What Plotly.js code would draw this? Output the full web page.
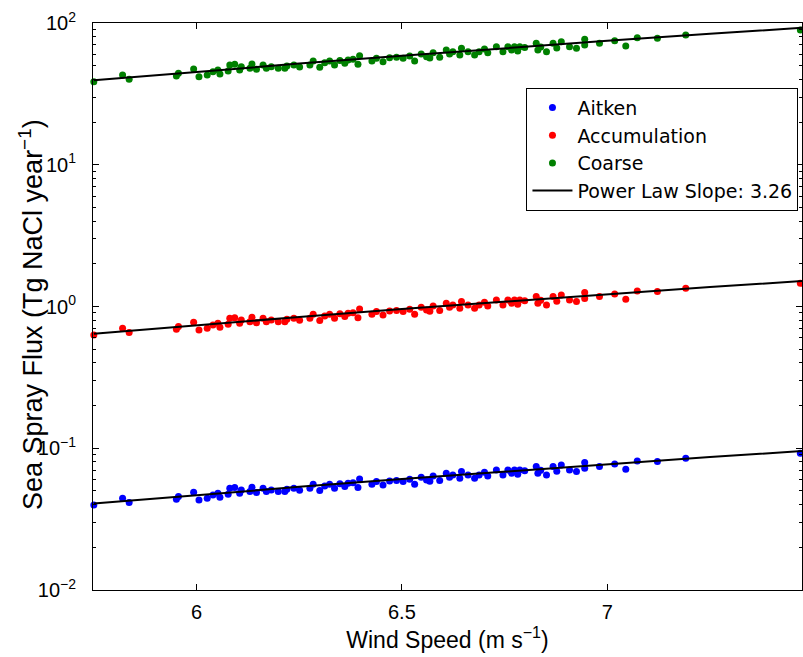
<!DOCTYPE html>
<html>
<head>
<meta charset="utf-8">
<script src="https://cdn.plot.ly/plotly-3.0.1.min.js"></script>
<style>html,body{margin:0;padding:0;background:#fff;}</style>
</head>
<body>
<div id="chart" style="width:803px;height:657px;"></div>
<script>
// Wind speed (m s^-1), shared by the three modes
const windSpeed = [5.750,5.820,5.836,5.951,5.956,5.993,6.006,6.026,6.040,6.057,6.077,6.081,6.093,6.109,6.130,6.146,6.162,6.170,6.182,6.199,6.215,6.237,6.276,6.284,6.300,6.312,6.324,6.336,6.361,6.369,6.381,6.393,6.397,6.438,6.454,6.470,6.487,6.503,6.531,6.547,6.560,6.576,6.592,6.608,6.624,6.641,6.645,6.661,6.677,6.688,6.709,6.730,6.746,6.758,6.774,6.787,6.827,6.831,6.852,6.868,6.888,6.908,6.925,6.945,6.945,6.981,7.018,7.045,7.073,7.122,7.191,7.470,6.105,6.220,6.251,6.349,6.427,6.519,6.568,6.616,6.701,6.767,6.799,6.838,6.877,6.782,6.052,6.135];

const aitken = [0.0398,0.0444,0.0414,0.0437,0.0457,0.0490,0.0432,0.0444,0.0468,0.0451,0.0474,0.0522,0.0528,0.0508,0.0495,0.0487,0.0522,0.0495,0.0508,0.0495,0.0495,0.0522,0.0522,0.0557,0.0503,0.0542,0.0557,0.0522,0.0537,0.0566,0.0572,0.0528,0.0607,0.0583,0.0551,0.0588,0.0592,0.0583,0.0557,0.0624,0.0597,0.0637,0.0592,0.0666,0.0648,0.0615,0.0685,0.0648,0.0615,0.0648,0.0637,0.0703,0.0648,0.0703,0.0703,0.0703,0.0743,0.0666,0.0648,0.0743,0.0762,0.0703,0.0685,0.0792,0.0722,0.0743,0.0775,0.0711,0.0814,0.0806,0.0850,0.0922,0.0481,0.0513,0.0505,0.0562,0.0557,0.0604,0.0585,0.0624,0.0678,0.0666,0.0694,0.0699,0.0688,0.0656,0.0481,0.0531];

const accumulation = [0.629,0.702,0.655,0.691,0.722,0.774,0.683,0.702,0.740,0.714,0.750,0.825,0.834,0.803,0.782,0.769,0.825,0.782,0.803,0.782,0.782,0.825,0.825,0.880,0.795,0.857,0.880,0.825,0.849,0.895,0.905,0.834,0.960,0.921,0.870,0.929,0.936,0.921,0.880,0.986,0.944,1.008,0.936,1.053,1.024,0.972,1.083,1.024,0.972,1.024,1.008,1.112,1.024,1.112,1.112,1.112,1.174,1.053,1.024,1.174,1.205,1.112,1.083,1.253,1.141,1.174,1.225,1.124,1.287,1.274,1.344,1.458,0.761,0.812,0.799,0.888,0.880,0.955,0.924,0.986,1.071,1.053,1.097,1.106,1.088,1.037,0.761,0.839];

const coarse = [38.5,43.0,40.1,42.3,44.2,47.4,41.8,43.0,45.3,43.7,45.9,50.5,51.1,49.2,47.9,47.1,50.5,47.9,49.2,47.9,47.9,50.5,50.5,53.9,48.7,52.5,53.9,50.5,52.0,54.8,55.4,51.1,58.8,56.4,53.3,56.9,57.3,56.4,53.9,60.4,57.8,61.7,57.3,64.5,62.7,59.5,66.3,62.7,59.5,62.7,61.7,68.1,62.7,68.1,68.1,68.1,71.9,64.5,62.7,71.9,73.8,68.1,66.3,76.7,69.9,71.9,75.0,68.8,78.8,78.0,82.3,89.3,46.6,49.7,48.9,54.4,53.9,58.5,56.6,60.4,65.6,64.5,67.2,67.7,66.6,63.5,46.6,51.4];

// Power-law fit lines (slope 3.26)
const fitWind = [5.75,6.0,6.25,6.5,6.75,7.0,7.25,7.474];
const fitAitken = [0.0407,0.0468,0.0534,0.0607,0.0686,0.0773,0.0866,0.0957];
const fitAccumulation = [0.643,0.739,0.844,0.960,1.085,1.222,1.370,1.512];
const fitCoarse = [39.4,45.26,51.70,58.76,66.45,74.82,83.88,92.6];

const seriesNames = ['Aitken','Accumulation','Coarse'];
const fitName = 'Power Law Slope: 3.26';
const xTitle = 'Wind Speed (m s<sup>\u22121</sup>)';
const yTitle = 'Sea Spray Flux (Tg NaCl year<sup>\u22121</sup>)';
const xTickVals = [6,6.5,7];
const xTickText = ['6','6.5','7'];
const yTickVals = [0.01,0.1,1,10,100];
const yTickText = ['10<sup>\u22122</sup>','10<sup>\u22121</sup>','10<sup>0</sup>','10<sup>1</sup>','10<sup>2</sup>'];
const yMinorVals = [0.02,0.03,0.04,0.05,0.06,0.07,0.08,0.09,0.2,0.3,0.4,0.5,0.6,0.7,0.8,0.9,2,3,4,5,6,7,8,9,20,30,40,50,60,70,80,90];

const colors = ['#0000ff','#ff0000','#008000'];
const ys = [aitken, accumulation, coarse];
const fits = [fitAitken, fitAccumulation, fitCoarse];

const traces = [];
for (let i = 0; i < 3; i++) {
  traces.push({
    type:'scatter', mode:'markers', x: windSpeed, y: ys[i], name: seriesNames[i],
    legendgroup: 'g'+i,
    marker:{color: colors[i], size: 7, line:{width:0}},
    cliponaxis: false
  });
}
for (let i = 0; i < 3; i++) {
  traces.push({
    type:'scatter', mode:'lines', x: fitWind, y: fits[i], name: fitName,
    legendgroup: 'fit', showlegend: i === 0,
    line:{color:'#000000', width:2}
  });
}

const font = 'Liberation Sans, Arial, Helvetica, sans-serif';
const legendFont = 'DejaVu Sans, Liberation Sans, Arial, sans-serif';
const layout = {
  width: 803, height: 657,
  margin: {l: 93, r: 1, t: 23, b: 67, pad: 0},
  paper_bgcolor: '#ffffff', plot_bgcolor: '#ffffff',
  font: {family: font, size: 19, color: '#000000'},
  showlegend: true,
  legend: {
    x: 0.995, xanchor: 'right', y: 0.886, yanchor: 'top',
    bordercolor: '#000000', borderwidth: 1, bgcolor: '#ffffff',
    font: {family: legendFont, size: 19, color: '#000000'},
    traceorder: 'grouped', tracegroupgap: 0, itemwidth: 40
  },
  xaxis: {
    range: [5.748, 7.474], tickmode: 'array', tickvals: xTickVals, ticktext: xTickText,
    ticks: 'inside', ticklen: 6, tickcolor: '#000000', showline: true, linecolor: '#000000', linewidth: 1,
    mirror: 'allticks', showgrid: false, zeroline: false,
    tickfont: {family: font, size: 20}, ticklabelstandoff: 4,
    title: {text: xTitle, font: {family: font, size: 23}, standoff: 6}
  },
  yaxis: {
    type: 'log', range: [-2, 2], tickmode: 'array', tickvals: yTickVals, ticktext: yTickText,
    ticks: 'inside', ticklen: 6, tickcolor: '#000000', showline: true, linecolor: '#000000', linewidth: 1,
    mirror: 'allticks', showgrid: false, zeroline: false,
    tickfont: {family: font, size: 20}, ticklabelstandoff: 12,
    minor: {tickmode: 'array', tickvals: yMinorVals, ticks: 'inside', ticklen: 3, tickcolor: '#000000', showgrid: false}
  },
  annotations: [{
    text: yTitle, textangle: -90, showarrow: false,
    xref: 'paper', yref: 'paper', x: 0, y: 0.485, xanchor: 'center', yanchor: 'middle',
    xshift: -62, font: {family: font, size: 27, color: '#000000'}
  }]
};

Plotly.newPlot('chart', traces, layout, {displayModeBar: false, staticPlot: true});
</script>
</body>
</html>
